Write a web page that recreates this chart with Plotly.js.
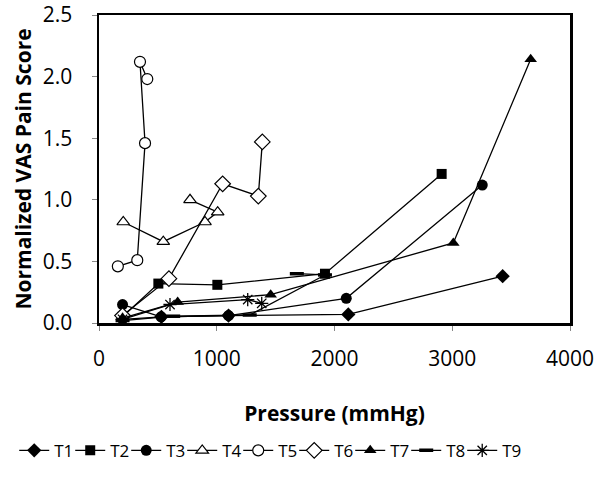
<!DOCTYPE html>
<html>
<head>
<meta charset="utf-8">
<script src="https://cdn.plot.ly/plotly-3.0.1.min.js"></script>
<style>html,body{margin:0;padding:0;background:#fff;}#chart{width:602px;height:477px;}</style>
</head>
<body>
<div id="chart"></div>
<script>
var seriesNames = ["T1","T2","T3","T4","T5","T6","T7","T8","T9"];
var t1x = [200, 530, 1100, 2117, 3428];
var t1y = [0.03, 0.05, 0.06, 0.07, 0.38];
var t2x = [200, 504, 1005, 1919, 2910];
var t2y = [0.05, 0.32, 0.31, 0.40, 1.21];
var t3x = [200, 527, 1100, 2100, 3255];
var t3y = [0.15, 0.05, 0.06, 0.20, 1.12];
var t4x = [206, 546, 900, 1008, 773];
var t4y = [0.82, 0.66, 0.82, 0.90, 1.00];
var t5x = [160, 325, 391, 348, 410];
var t5y = [0.46, 0.51, 1.46, 2.12, 1.98];
var t6x = [200, 594, 1050, 1353, 1387];
var t6y = [0.06, 0.36, 1.13, 1.03, 1.47];
var t7x = [200, 668, 1458, 3009, 3666];
var t7y = [0.04, 0.17, 0.23, 0.65, 2.14];
var t8x = [200, 630, 1280, 1919, 1680];
var t8y = [0.02, 0.055, 0.065, 0.39, 0.40];
var t9x = [200, 603, 1263, 1382];
var t9y = [0.03, 0.15, 0.19, 0.16];

var xs = [t1x,t2x,t3x,t4x,t5x,t6x,t7x,t8x,t9x];
var ys = [t1y,t2y,t3y,t4y,t5y,t6y,t7y,t8y,t9y];
var symbols = ["diamond","square","circle","triangle-up","circle","diamond","triangle-up","line-ew-open","asterisk-open"];
var fills = ["black","black","black","white","white","white","black","black","black"];
var sizes = [11,10,11,11,11,12,11,10,11];
var lw = [0,0,0,1.2,1.2,1.2,0,3.5,1.3];

var traces = seriesNames.map(function(n,i){
  var t = {
    type:'scatter', mode:'lines+markers', name:n,
    x: xs[i], y: ys[i],
    line:{color:'black', width:1.3},
    marker:{symbol:symbols[i], size:sizes[i], color:fills[i], line:{color:'black', width:lw[i]}}
  };
  if (i === seriesNames.length - 1) t.legendwidth = 26;
  return t;
});

var layout = {
  width:602, height:477,
  margin:{l:99, r:32, t:15, b:154, autoexpand:false},
  paper_bgcolor:'white', plot_bgcolor:'white',
  font:{family:'Open Sans, sans-serif', color:'black'},
  showlegend:true,
  legend:{orientation:'h', x:-0.18, xanchor:'left', y:-0.415, yanchor:'middle',
          font:{size:17, family:'Open Sans, sans-serif'}, entrywidth:11, entrywidthmode:'pixels',
          itemwidth:30, tracegroupgap:0},
  xaxis:{range:[0,4000], tickvals:[0,1000,2000,3000,4000], showgrid:false, zeroline:false,
         showline:true, linecolor:'black', linewidth:2.5, mirror:true,
         ticks:'outside', ticklen:5, tickcolor:'#888', tickwidth:1,
         ticklabelstandoff:10,
         tickfont:{size:21},
         title:{text:'<b>Pressure (mmHg)</b>', font:{size:21}, standoff:36}},
  yaxis:{range:[0,2.5], tickvals:[0,0.5,1,1.5,2,2.5], tickformat:'.1f', showgrid:false, zeroline:false,
         showline:true, linecolor:'black', linewidth:2.5, mirror:true,
         ticks:'outside', ticklen:5, tickcolor:'#888', tickwidth:1,
         ticklabelstandoff:15,
         tickfont:{size:21},
         title:{text:'<b>Normalized VAS Pain Score</b>', font:{size:21}, standoff:6}}
};

Plotly.newPlot('chart', traces, layout, {displayModeBar:false, staticPlot:true});
</script>
</body>
</html>
